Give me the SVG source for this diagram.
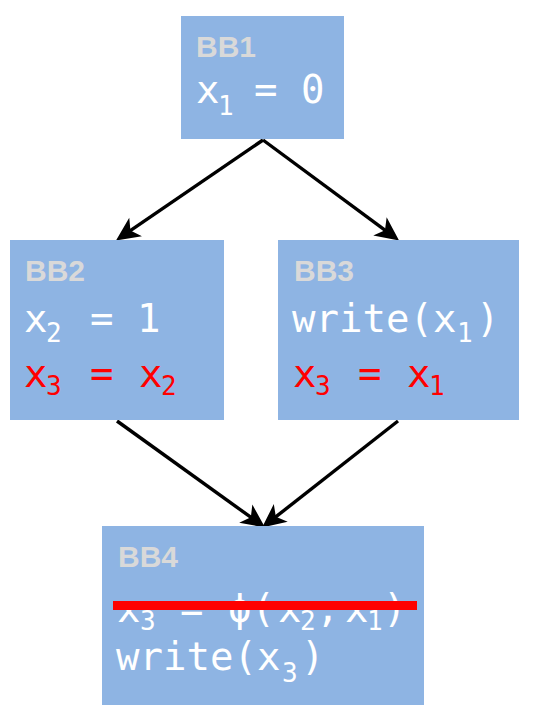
<svg xmlns="http://www.w3.org/2000/svg" width="533" height="714" viewBox="0 0 533 714">
<style>
.box{fill:#8EB4E3;}
.lbl{font-family:"Liberation Sans",Arial,sans-serif;font-weight:bold;font-size:30px;fill:#D9D9D9;}
.code{font-family:"DejaVu Sans Mono","Liberation Mono",monospace;font-size:39px;fill:#FFFFFF;}
.sub{font-size:26px;}
.red{fill:#FF0000;}
.edge{stroke:#000;stroke-width:3.4;fill:none;marker-end:url(#ah);}
</style>
<defs>
<marker id="ah" markerUnits="userSpaceOnUse" markerWidth="30" markerHeight="30" viewBox="-12 -12 24 24" refX="0" refY="0" orient="auto">
<path d="M10,0 L-9,-9 L-4,0 L-9,9 Z" fill="#000"/>
</marker>
</defs>
<rect width="533" height="714" fill="#FFFFFF"/>
<g id="connectors">
<line class="edge" x1="263" y1="140" x2="126.3" y2="233.4"/>
<line class="edge" x1="263" y1="140" x2="389" y2="233.1"/>
<line class="edge" x1="117" y1="421" x2="254.9" y2="520.2"/>
<line class="edge" x1="398" y1="421" x2="271.9" y2="519.9"/>
</g>
<g id="BB1">
<rect class="box" x="181" y="16" width="163" height="123"/>
<text class="lbl" x="196" y="57">BB1</text>
<text class="code"><tspan x="196" y="103">x</tspan><tspan class="sub" x="218" y="115">1</tspan><tspan x="254" y="103">=</tspan><tspan x="301" y="103">0</tspan></text>
</g>
<g id="BB2">
<rect class="box" x="10" y="240" width="214" height="180"/>
<text class="lbl" x="25" y="281">BB2</text>
<text class="code"><tspan x="24" y="332">x</tspan><tspan class="sub" x="46" y="342">2</tspan><tspan x="90" y="332">=</tspan><tspan x="137" y="332">1</tspan></text>
<text class="code red"><tspan x="24" y="387">x</tspan><tspan class="sub" x="46" y="395">3</tspan><tspan x="90" y="387">=</tspan><tspan x="139" y="387">x</tspan><tspan class="sub" x="161" y="395">2</tspan></text>
</g>
<g id="BB3">
<rect class="box" x="278" y="240" width="241" height="180"/>
<text class="lbl" x="294" y="281">BB3</text>
<text class="code"><tspan x="292" y="332">write(x</tspan><tspan class="sub" x="457" y="342">1</tspan><tspan x="476" y="332">)</tspan></text>
<text class="code red"><tspan x="293" y="387">x</tspan><tspan class="sub" x="315" y="395">3</tspan><tspan x="358" y="387">=</tspan><tspan x="407" y="387">x</tspan><tspan class="sub" x="429" y="395">1</tspan></text>
</g>
<g id="BB4">
<rect class="box" x="102" y="526" width="322" height="179"/>
<text class="lbl" x="118" y="567">BB4</text>
<text class="code"><tspan x="117" y="622">x</tspan><tspan class="sub" x="140" y="630">3</tspan><tspan x="180" y="622">=</tspan><tspan x="228" y="622">ϕ(</tspan><tspan x="278" y="622">x</tspan><tspan class="sub" x="300" y="630">2</tspan><tspan x="316" y="622">,</tspan><tspan x="345" y="622">x</tspan><tspan class="sub" x="367" y="630">1</tspan><tspan x="383" y="622">)</tspan></text>
<rect x="113" y="601" width="304" height="9" fill="#FF0000"/>
<text class="code"><tspan x="116" y="670">write(x</tspan><tspan class="sub" x="282" y="682">3</tspan><tspan x="301" y="670">)</tspan></text>
</g>
</svg>
